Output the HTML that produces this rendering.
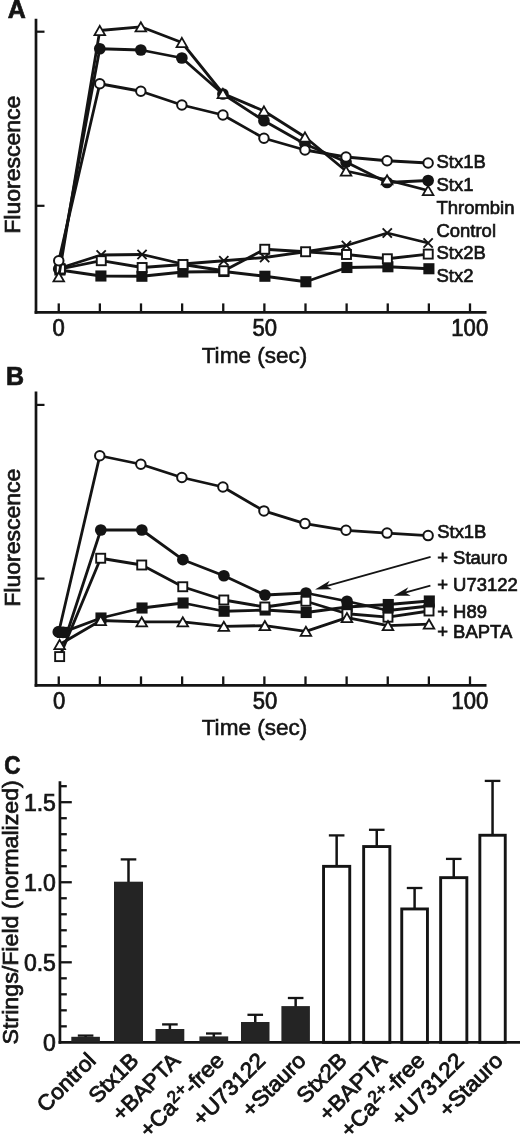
<!DOCTYPE html>
<html><head><meta charset="utf-8"><title>Figure</title>
<style>
html,body{margin:0;padding:0;background:#fff;}
svg{display:block;}
text{font-family:"Liberation Sans",Arial,Helvetica,sans-serif;fill:#141414;}
</style></head><body>
<svg width="520" height="1134" viewBox="0 0 520 1134">
<rect width="520" height="1134" fill="#fff"/>
<line x1="36.0" y1="18.7" x2="36.0" y2="313.65000000000003" stroke="#141414" stroke-width="2.7"/>
<line x1="34.65" y1="312.3" x2="486.5" y2="312.3" stroke="#141414" stroke-width="2.7"/>
<line x1="36.0" y1="31.7" x2="44.5" y2="31.7" stroke="#141414" stroke-width="2.2"/>
<line x1="36.0" y1="205.8" x2="44.5" y2="205.8" stroke="#141414" stroke-width="2.2"/>
<line x1="58.75" y1="312.3" x2="58.75" y2="303.40000000000003" stroke="#141414" stroke-width="2.3"/>
<line x1="99.875" y1="312.3" x2="99.875" y2="303.40000000000003" stroke="#141414" stroke-width="2.3"/>
<line x1="141.0" y1="312.3" x2="141.0" y2="303.40000000000003" stroke="#141414" stroke-width="2.3"/>
<line x1="182.125" y1="312.3" x2="182.125" y2="303.40000000000003" stroke="#141414" stroke-width="2.3"/>
<line x1="223.25" y1="312.3" x2="223.25" y2="303.40000000000003" stroke="#141414" stroke-width="2.3"/>
<line x1="264.375" y1="312.3" x2="264.375" y2="303.40000000000003" stroke="#141414" stroke-width="2.3"/>
<line x1="305.5" y1="312.3" x2="305.5" y2="303.40000000000003" stroke="#141414" stroke-width="2.3"/>
<line x1="346.625" y1="312.3" x2="346.625" y2="303.40000000000003" stroke="#141414" stroke-width="2.3"/>
<line x1="387.75" y1="312.3" x2="387.75" y2="303.40000000000003" stroke="#141414" stroke-width="2.3"/>
<line x1="428.875" y1="312.3" x2="428.875" y2="303.40000000000003" stroke="#141414" stroke-width="2.3"/>
<line x1="470.0" y1="312.3" x2="470.0" y2="303.40000000000003" stroke="#141414" stroke-width="2.3"/>
<polyline points="59.90,270.00 100.90,276.00 141.90,276.25 182.90,272.00 223.90,271.50 264.90,276.25 305.90,281.75 346.90,267.50 387.90,266.75 428.90,268.75" fill="none" stroke="#141414" stroke-width="2.8" stroke-linejoin="round"/>
<rect x="54.35" y="264.45" width="11.1" height="11.1" fill="#141414"/>
<rect x="95.35" y="270.45" width="11.1" height="11.1" fill="#141414"/>
<rect x="136.35" y="270.70" width="11.1" height="11.1" fill="#141414"/>
<rect x="177.35" y="266.45" width="11.1" height="11.1" fill="#141414"/>
<rect x="218.35" y="265.95" width="11.1" height="11.1" fill="#141414"/>
<rect x="259.35" y="270.70" width="11.1" height="11.1" fill="#141414"/>
<rect x="300.35" y="276.20" width="11.1" height="11.1" fill="#141414"/>
<rect x="341.35" y="261.95" width="11.1" height="11.1" fill="#141414"/>
<rect x="382.35" y="261.20" width="11.1" height="11.1" fill="#141414"/>
<rect x="423.35" y="263.20" width="11.1" height="11.1" fill="#141414"/>
<polyline points="58.75,269.00 99.79,48.75 140.83,50.00 181.87,58.00 222.91,94.00 263.95,120.75 304.99,144.00 346.03,162.00 387.07,182.50 428.11,180.50" fill="none" stroke="#141414" stroke-width="2.8" stroke-linejoin="round"/>
<circle cx="58.75" cy="269.00" r="5.85" fill="#141414"/>
<circle cx="99.79" cy="48.75" r="5.85" fill="#141414"/>
<circle cx="140.83" cy="50.00" r="5.85" fill="#141414"/>
<circle cx="181.87" cy="58.00" r="5.85" fill="#141414"/>
<circle cx="222.91" cy="94.00" r="5.85" fill="#141414"/>
<circle cx="263.95" cy="120.75" r="5.85" fill="#141414"/>
<circle cx="304.99" cy="144.00" r="5.85" fill="#141414"/>
<circle cx="346.03" cy="162.00" r="5.85" fill="#141414"/>
<circle cx="387.07" cy="182.50" r="5.85" fill="#141414"/>
<circle cx="428.11" cy="180.50" r="5.85" fill="#141414"/>
<polyline points="60.30,268.00 101.17,255.00 142.04,254.50 182.91,264.00 223.78,260.75 264.65,257.50 305.52,251.75 346.39,245.50 387.26,233.00 428.13,243.00" fill="none" stroke="#141414" stroke-width="2.8" stroke-linejoin="round"/>
<path d="M55.70,263.40L64.90,272.60M55.70,272.60L64.90,263.40" stroke="#141414" stroke-width="1.9" fill="none"/>
<path d="M96.57,250.40L105.77,259.60M96.57,259.60L105.77,250.40" stroke="#141414" stroke-width="1.9" fill="none"/>
<path d="M137.44,249.90L146.64,259.10M137.44,259.10L146.64,249.90" stroke="#141414" stroke-width="1.9" fill="none"/>
<path d="M178.31,259.40L187.51,268.60M178.31,268.60L187.51,259.40" stroke="#141414" stroke-width="1.9" fill="none"/>
<path d="M219.18,256.15L228.38,265.35M219.18,265.35L228.38,256.15" stroke="#141414" stroke-width="1.9" fill="none"/>
<path d="M260.05,252.90L269.25,262.10M260.05,262.10L269.25,252.90" stroke="#141414" stroke-width="1.9" fill="none"/>
<path d="M300.92,247.15L310.12,256.35M300.92,256.35L310.12,247.15" stroke="#141414" stroke-width="1.9" fill="none"/>
<path d="M341.79,240.90L350.99,250.10M341.79,250.10L350.99,240.90" stroke="#141414" stroke-width="1.9" fill="none"/>
<path d="M382.66,228.40L391.86,237.60M382.66,237.60L391.86,228.40" stroke="#141414" stroke-width="1.9" fill="none"/>
<path d="M423.53,238.40L432.73,247.60M423.53,247.60L432.73,238.40" stroke="#141414" stroke-width="1.9" fill="none"/>
<polyline points="60.40,269.00 101.27,260.70 142.14,267.50 183.01,264.50 223.88,270.75 264.75,249.25 305.62,251.75 346.49,254.50 387.36,258.75 428.23,254.10" fill="none" stroke="#141414" stroke-width="2.8" stroke-linejoin="round"/>
<rect x="55.90" y="264.50" width="9.0" height="9.0" fill="#fff" stroke="#141414" stroke-width="1.9"/>
<rect x="96.77" y="256.20" width="9.0" height="9.0" fill="#fff" stroke="#141414" stroke-width="1.9"/>
<rect x="137.64" y="263.00" width="9.0" height="9.0" fill="#fff" stroke="#141414" stroke-width="1.9"/>
<rect x="178.51" y="260.00" width="9.0" height="9.0" fill="#fff" stroke="#141414" stroke-width="1.9"/>
<rect x="219.38" y="266.25" width="9.0" height="9.0" fill="#fff" stroke="#141414" stroke-width="1.9"/>
<rect x="260.25" y="244.75" width="9.0" height="9.0" fill="#fff" stroke="#141414" stroke-width="1.9"/>
<rect x="301.12" y="247.25" width="9.0" height="9.0" fill="#fff" stroke="#141414" stroke-width="1.9"/>
<rect x="341.99" y="250.00" width="9.0" height="9.0" fill="#fff" stroke="#141414" stroke-width="1.9"/>
<rect x="382.86" y="254.25" width="9.0" height="9.0" fill="#fff" stroke="#141414" stroke-width="1.9"/>
<rect x="423.73" y="249.60" width="9.0" height="9.0" fill="#fff" stroke="#141414" stroke-width="1.9"/>
<polyline points="58.75,276.80 99.79,30.50 140.83,26.80 181.87,42.50 222.91,93.50 263.95,111.00 304.99,137.00 346.03,171.00 387.07,179.80 428.11,190.50" fill="none" stroke="#141414" stroke-width="2.8" stroke-linejoin="round"/>
<polygon points="58.75,272.20 64.05,281.40 53.45,281.40" fill="#fff" stroke="#141414" stroke-width="1.8" stroke-linejoin="miter"/>
<polygon points="99.79,25.90 105.09,35.10 94.49,35.10" fill="#fff" stroke="#141414" stroke-width="1.8" stroke-linejoin="miter"/>
<polygon points="140.83,22.20 146.13,31.40 135.53,31.40" fill="#fff" stroke="#141414" stroke-width="1.8" stroke-linejoin="miter"/>
<polygon points="181.87,37.90 187.17,47.10 176.57,47.10" fill="#fff" stroke="#141414" stroke-width="1.8" stroke-linejoin="miter"/>
<polygon points="222.91,88.90 228.21,98.10 217.61,98.10" fill="#fff" stroke="#141414" stroke-width="1.8" stroke-linejoin="miter"/>
<polygon points="263.95,106.40 269.25,115.60 258.65,115.60" fill="#fff" stroke="#141414" stroke-width="1.8" stroke-linejoin="miter"/>
<polygon points="304.99,132.40 310.29,141.60 299.69,141.60" fill="#fff" stroke="#141414" stroke-width="1.8" stroke-linejoin="miter"/>
<polygon points="346.03,166.40 351.33,175.60 340.73,175.60" fill="#fff" stroke="#141414" stroke-width="1.8" stroke-linejoin="miter"/>
<polygon points="387.07,175.20 392.37,184.40 381.77,184.40" fill="#fff" stroke="#141414" stroke-width="1.8" stroke-linejoin="miter"/>
<polygon points="428.11,185.90 433.41,195.10 422.81,195.10" fill="#fff" stroke="#141414" stroke-width="1.8" stroke-linejoin="miter"/>
<polyline points="58.75,260.75 99.79,83.75 140.83,91.25 181.87,105.00 222.91,115.00 263.95,138.25 304.99,150.00 346.03,157.00 387.07,160.75 428.11,163.00" fill="none" stroke="#141414" stroke-width="2.8" stroke-linejoin="round"/>
<circle cx="58.75" cy="260.75" r="4.75" fill="#fff" stroke="#141414" stroke-width="2.0"/>
<circle cx="99.79" cy="83.75" r="4.75" fill="#fff" stroke="#141414" stroke-width="2.0"/>
<circle cx="140.83" cy="91.25" r="4.75" fill="#fff" stroke="#141414" stroke-width="2.0"/>
<circle cx="181.87" cy="105.00" r="4.75" fill="#fff" stroke="#141414" stroke-width="2.0"/>
<circle cx="222.91" cy="115.00" r="4.75" fill="#fff" stroke="#141414" stroke-width="2.0"/>
<circle cx="263.95" cy="138.25" r="4.75" fill="#fff" stroke="#141414" stroke-width="2.0"/>
<circle cx="304.99" cy="150.00" r="4.75" fill="#fff" stroke="#141414" stroke-width="2.0"/>
<circle cx="346.03" cy="157.00" r="4.75" fill="#fff" stroke="#141414" stroke-width="2.0"/>
<circle cx="387.07" cy="160.75" r="4.75" fill="#fff" stroke="#141414" stroke-width="2.0"/>
<circle cx="428.11" cy="163.00" r="4.75" fill="#fff" stroke="#141414" stroke-width="2.0"/>
<text transform="translate(7.75,18.1)" font-size="25" text-anchor="start" font-weight="bold" stroke="#141414" stroke-width="0.7">A</text>
<text transform="translate(436.5,167.6) scale(0.972,1.0)" font-size="19.0" text-anchor="start" font-weight="normal" stroke="#141414" stroke-width="0.7">Stx1B</text>
<text transform="translate(436.5,190.6) scale(0.972,1.0)" font-size="19.0" text-anchor="start" font-weight="normal" stroke="#141414" stroke-width="0.7">Stx1</text>
<text transform="translate(436.5,213.5) scale(0.972,1.0)" font-size="19.0" text-anchor="start" font-weight="normal" stroke="#141414" stroke-width="0.7">Thrombin</text>
<text transform="translate(436.5,236.5) scale(0.972,1.0)" font-size="19.0" text-anchor="start" font-weight="normal" stroke="#141414" stroke-width="0.7">Control</text>
<text transform="translate(436.5,259.0) scale(0.972,1.0)" font-size="19.0" text-anchor="start" font-weight="normal" stroke="#141414" stroke-width="0.7">Stx2B</text>
<text transform="translate(436.5,282.2) scale(0.972,1.0)" font-size="19.0" text-anchor="start" font-weight="normal" stroke="#141414" stroke-width="0.7">Stx2</text>
<text transform="translate(58.6,335.7) scale(0.955,1.0)" font-size="23.1" text-anchor="middle" font-weight="normal" stroke="#141414" stroke-width="0.75">0</text>
<text transform="translate(264.75,335.7) scale(0.955,1.0)" font-size="23.1" text-anchor="middle" font-weight="normal" stroke="#141414" stroke-width="0.75">50</text>
<text transform="translate(469.75,335.7) scale(0.955,1.0)" font-size="23.1" text-anchor="middle" font-weight="normal" stroke="#141414" stroke-width="0.75">100</text>
<text transform="translate(254.5,362.8) scale(0.985,1.0)" font-size="22.9" text-anchor="middle" font-weight="normal" stroke="#141414" stroke-width="0.6">Time (sec)</text>
<text transform="translate(20.3,164.7) rotate(-90) scale(1.028,1.0)" font-size="22.4" text-anchor="middle" font-weight="normal" stroke="#141414" stroke-width="0.7">Fluorescence</text>
<line x1="36.0" y1="391.5" x2="36.0" y2="686.65" stroke="#141414" stroke-width="2.7"/>
<line x1="34.65" y1="685.3" x2="486.5" y2="685.3" stroke="#141414" stroke-width="2.7"/>
<line x1="36.0" y1="404.9" x2="44.5" y2="404.9" stroke="#141414" stroke-width="2.2"/>
<line x1="36.0" y1="578.6" x2="44.5" y2="578.6" stroke="#141414" stroke-width="2.2"/>
<line x1="58.75" y1="685.3" x2="58.75" y2="676.4" stroke="#141414" stroke-width="2.3"/>
<line x1="99.875" y1="685.3" x2="99.875" y2="676.4" stroke="#141414" stroke-width="2.3"/>
<line x1="141.0" y1="685.3" x2="141.0" y2="676.4" stroke="#141414" stroke-width="2.3"/>
<line x1="182.125" y1="685.3" x2="182.125" y2="676.4" stroke="#141414" stroke-width="2.3"/>
<line x1="223.25" y1="685.3" x2="223.25" y2="676.4" stroke="#141414" stroke-width="2.3"/>
<line x1="264.375" y1="685.3" x2="264.375" y2="676.4" stroke="#141414" stroke-width="2.3"/>
<line x1="305.5" y1="685.3" x2="305.5" y2="676.4" stroke="#141414" stroke-width="2.3"/>
<line x1="346.625" y1="685.3" x2="346.625" y2="676.4" stroke="#141414" stroke-width="2.3"/>
<line x1="387.75" y1="685.3" x2="387.75" y2="676.4" stroke="#141414" stroke-width="2.3"/>
<line x1="428.875" y1="685.3" x2="428.875" y2="676.4" stroke="#141414" stroke-width="2.3"/>
<line x1="470.0" y1="685.3" x2="470.0" y2="676.4" stroke="#141414" stroke-width="2.3"/>
<polyline points="58.75,632.00 99.79,455.75 140.83,464.25 181.87,477.50 222.91,487.00 263.95,510.90 304.99,523.60 346.03,530.30 387.07,533.10 428.11,535.60" fill="none" stroke="#141414" stroke-width="2.8" stroke-linejoin="round"/>
<circle cx="58.75" cy="632.00" r="4.75" fill="#fff" stroke="#141414" stroke-width="2.0"/>
<circle cx="99.79" cy="455.75" r="4.75" fill="#fff" stroke="#141414" stroke-width="2.0"/>
<circle cx="140.83" cy="464.25" r="4.75" fill="#fff" stroke="#141414" stroke-width="2.0"/>
<circle cx="181.87" cy="477.50" r="4.75" fill="#fff" stroke="#141414" stroke-width="2.0"/>
<circle cx="222.91" cy="487.00" r="4.75" fill="#fff" stroke="#141414" stroke-width="2.0"/>
<circle cx="263.95" cy="510.90" r="4.75" fill="#fff" stroke="#141414" stroke-width="2.0"/>
<circle cx="304.99" cy="523.60" r="4.75" fill="#fff" stroke="#141414" stroke-width="2.0"/>
<circle cx="346.03" cy="530.30" r="4.75" fill="#fff" stroke="#141414" stroke-width="2.0"/>
<circle cx="387.07" cy="533.10" r="4.75" fill="#fff" stroke="#141414" stroke-width="2.0"/>
<circle cx="428.11" cy="535.60" r="4.75" fill="#fff" stroke="#141414" stroke-width="2.0"/>
<circle cx="58.30" cy="631.90" r="5.85" fill="#141414"/>
<polyline points="62.60,632.40 100.99,618.00 142.03,608.00 183.07,603.00 224.11,611.25 265.15,610.00 306.19,612.50 347.23,607.00 388.27,604.50 429.31,601.00" fill="none" stroke="#141414" stroke-width="2.8" stroke-linejoin="round"/>
<rect x="57.05" y="626.85" width="11.1" height="11.1" fill="#141414"/>
<rect x="95.44" y="612.45" width="11.1" height="11.1" fill="#141414"/>
<rect x="136.48" y="602.45" width="11.1" height="11.1" fill="#141414"/>
<rect x="177.52" y="597.45" width="11.1" height="11.1" fill="#141414"/>
<rect x="218.56" y="605.70" width="11.1" height="11.1" fill="#141414"/>
<rect x="259.60" y="604.45" width="11.1" height="11.1" fill="#141414"/>
<rect x="300.64" y="606.95" width="11.1" height="11.1" fill="#141414"/>
<rect x="341.68" y="601.45" width="11.1" height="11.1" fill="#141414"/>
<rect x="382.72" y="598.95" width="11.1" height="11.1" fill="#141414"/>
<rect x="423.76" y="595.45" width="11.1" height="11.1" fill="#141414"/>
<polyline points="67.30,632.30 100.79,530.00 141.83,530.00 182.87,559.70 223.91,575.75 264.95,595.00 305.99,593.00 347.03,601.25 388.07,610.50 429.11,606.00" fill="none" stroke="#141414" stroke-width="2.8" stroke-linejoin="round"/>
<circle cx="63.00" cy="632.30" r="5.85" fill="#141414"/>
<circle cx="100.79" cy="530.00" r="5.85" fill="#141414"/>
<circle cx="141.83" cy="530.00" r="5.85" fill="#141414"/>
<circle cx="182.87" cy="559.70" r="5.85" fill="#141414"/>
<circle cx="223.91" cy="575.75" r="5.85" fill="#141414"/>
<circle cx="264.95" cy="595.00" r="5.85" fill="#141414"/>
<circle cx="305.99" cy="593.00" r="5.85" fill="#141414"/>
<circle cx="347.03" cy="601.25" r="5.85" fill="#141414"/>
<circle cx="388.07" cy="610.50" r="5.85" fill="#141414"/>
<circle cx="429.11" cy="606.00" r="5.85" fill="#141414"/>
<polyline points="59.65,656.60 100.69,558.25 141.73,565.00 182.77,586.75 223.81,600.00 264.85,607.00 305.89,601.25 346.93,613.75 387.97,617.20 429.01,611.00" fill="none" stroke="#141414" stroke-width="2.8" stroke-linejoin="round"/>
<rect x="55.15" y="652.10" width="9.0" height="9.0" fill="#fff" stroke="#141414" stroke-width="1.9"/>
<rect x="96.19" y="553.75" width="9.0" height="9.0" fill="#fff" stroke="#141414" stroke-width="1.9"/>
<rect x="137.23" y="560.50" width="9.0" height="9.0" fill="#fff" stroke="#141414" stroke-width="1.9"/>
<rect x="178.27" y="582.25" width="9.0" height="9.0" fill="#fff" stroke="#141414" stroke-width="1.9"/>
<rect x="219.31" y="595.50" width="9.0" height="9.0" fill="#fff" stroke="#141414" stroke-width="1.9"/>
<rect x="260.35" y="602.50" width="9.0" height="9.0" fill="#fff" stroke="#141414" stroke-width="1.9"/>
<rect x="301.39" y="596.75" width="9.0" height="9.0" fill="#fff" stroke="#141414" stroke-width="1.9"/>
<rect x="342.43" y="609.25" width="9.0" height="9.0" fill="#fff" stroke="#141414" stroke-width="1.9"/>
<rect x="383.47" y="612.70" width="9.0" height="9.0" fill="#fff" stroke="#141414" stroke-width="1.9"/>
<rect x="424.51" y="606.50" width="9.0" height="9.0" fill="#fff" stroke="#141414" stroke-width="1.9"/>
<polyline points="59.65,644.50 100.69,620.50 141.73,621.80 182.77,621.80 223.81,626.30 264.85,625.60 305.89,631.30 346.93,617.60 387.97,625.60 429.01,624.10" fill="none" stroke="#141414" stroke-width="2.8" stroke-linejoin="round"/>
<polygon points="59.65,639.90 64.95,649.10 54.35,649.10" fill="#fff" stroke="#141414" stroke-width="1.8" stroke-linejoin="miter"/>
<polygon points="100.69,615.90 105.99,625.10 95.39,625.10" fill="#fff" stroke="#141414" stroke-width="1.8" stroke-linejoin="miter"/>
<polygon points="141.73,617.20 147.03,626.40 136.43,626.40" fill="#fff" stroke="#141414" stroke-width="1.8" stroke-linejoin="miter"/>
<polygon points="182.77,617.20 188.07,626.40 177.47,626.40" fill="#fff" stroke="#141414" stroke-width="1.8" stroke-linejoin="miter"/>
<polygon points="223.81,621.70 229.11,630.90 218.51,630.90" fill="#fff" stroke="#141414" stroke-width="1.8" stroke-linejoin="miter"/>
<polygon points="264.85,621.00 270.15,630.20 259.55,630.20" fill="#fff" stroke="#141414" stroke-width="1.8" stroke-linejoin="miter"/>
<polygon points="305.89,626.70 311.19,635.90 300.59,635.90" fill="#fff" stroke="#141414" stroke-width="1.8" stroke-linejoin="miter"/>
<polygon points="346.93,613.00 352.23,622.20 341.63,622.20" fill="#fff" stroke="#141414" stroke-width="1.8" stroke-linejoin="miter"/>
<polygon points="387.97,621.00 393.27,630.20 382.67,630.20" fill="#fff" stroke="#141414" stroke-width="1.8" stroke-linejoin="miter"/>
<polygon points="429.01,619.50 434.31,628.70 423.71,628.70" fill="#fff" stroke="#141414" stroke-width="1.8" stroke-linejoin="miter"/>
<text transform="translate(6.1,385.2)" font-size="25" text-anchor="start" font-weight="bold" stroke="#141414" stroke-width="0.7">B</text>
<text transform="translate(437.2,537.7) scale(0.972,1.0)" font-size="19.0" text-anchor="start" font-weight="normal" stroke="#141414" stroke-width="0.7">Stx1B</text>
<text transform="translate(437.2,564) scale(0.972,1.0)" font-size="19.0" text-anchor="start" font-weight="normal" stroke="#141414" stroke-width="0.7">+ Stauro</text>
<text transform="translate(437.2,591) scale(0.972,1.0)" font-size="19.0" text-anchor="start" font-weight="normal" stroke="#141414" stroke-width="0.7">+ U73122</text>
<text transform="translate(437.2,617.7) scale(0.972,1.0)" font-size="19.0" text-anchor="start" font-weight="normal" stroke="#141414" stroke-width="0.7">+ H89</text>
<text transform="translate(437.2,637.5) scale(0.972,1.0)" font-size="19.0" text-anchor="start" font-weight="normal" stroke="#141414" stroke-width="0.7">+ BAPTA</text>
<text transform="translate(59.2,708.8) scale(0.955,1.0)" font-size="23.1" text-anchor="middle" font-weight="normal" stroke="#141414" stroke-width="0.75">0</text>
<text transform="translate(264.9,708.8) scale(0.955,1.0)" font-size="23.1" text-anchor="middle" font-weight="normal" stroke="#141414" stroke-width="0.75">50</text>
<text transform="translate(469.9,708.8) scale(0.955,1.0)" font-size="23.1" text-anchor="middle" font-weight="normal" stroke="#141414" stroke-width="0.75">100</text>
<text transform="translate(254.5,735.3) scale(0.985,1.0)" font-size="22.9" text-anchor="middle" font-weight="normal" stroke="#141414" stroke-width="0.6">Time (sec)</text>
<text transform="translate(20.3,537.7) rotate(-90) scale(1.028,1.0)" font-size="22.4" text-anchor="middle" font-weight="normal" stroke="#141414" stroke-width="0.7">Fluorescence</text>
<line x1="430.6" y1="556.9" x2="322.70142452939746" y2="587.2348071176002" stroke="#141414" stroke-width="1.8"/>
<polygon points="315.00,589.40 329.69,580.70 326.55,586.15 332.08,589.17" fill="#141414"/>
<line x1="430.4" y1="585.6" x2="401.30934259838216" y2="593.6631713450137" stroke="#141414" stroke-width="1.8"/>
<polygon points="393.60,595.80 408.33,587.15 405.16,592.59 410.68,595.63" fill="#141414"/>
<line x1="59.95" y1="781.2" x2="59.95" y2="1043.6999999999998" stroke="#141414" stroke-width="2.7"/>
<line x1="58.6" y1="1042.35" x2="520" y2="1042.35" stroke="#141414" stroke-width="2.7"/>
<line x1="59.95" y1="1026.34" x2="66.8" y2="1026.34" stroke="#141414" stroke-width="2.3"/>
<line x1="59.95" y1="1010.3299999999999" x2="66.8" y2="1010.3299999999999" stroke="#141414" stroke-width="2.3"/>
<line x1="59.95" y1="994.3199999999999" x2="66.8" y2="994.3199999999999" stroke="#141414" stroke-width="2.3"/>
<line x1="59.95" y1="978.31" x2="66.8" y2="978.31" stroke="#141414" stroke-width="2.3"/>
<line x1="59.95" y1="962.3" x2="71.8" y2="962.3" stroke="#141414" stroke-width="2.3"/>
<line x1="59.95" y1="946.29" x2="66.8" y2="946.29" stroke="#141414" stroke-width="2.3"/>
<line x1="59.95" y1="930.2799999999999" x2="66.8" y2="930.2799999999999" stroke="#141414" stroke-width="2.3"/>
<line x1="59.95" y1="914.27" x2="66.8" y2="914.27" stroke="#141414" stroke-width="2.3"/>
<line x1="59.95" y1="898.26" x2="66.8" y2="898.26" stroke="#141414" stroke-width="2.3"/>
<line x1="59.95" y1="882.2499999999999" x2="71.8" y2="882.2499999999999" stroke="#141414" stroke-width="2.3"/>
<line x1="59.95" y1="866.2399999999999" x2="66.8" y2="866.2399999999999" stroke="#141414" stroke-width="2.3"/>
<line x1="59.95" y1="850.2299999999999" x2="66.8" y2="850.2299999999999" stroke="#141414" stroke-width="2.3"/>
<line x1="59.95" y1="834.2199999999999" x2="66.8" y2="834.2199999999999" stroke="#141414" stroke-width="2.3"/>
<line x1="59.95" y1="818.2099999999999" x2="66.8" y2="818.2099999999999" stroke="#141414" stroke-width="2.3"/>
<line x1="59.95" y1="802.1999999999999" x2="71.8" y2="802.1999999999999" stroke="#141414" stroke-width="2.3"/>
<line x1="59.95" y1="786.1899999999999" x2="66.8" y2="786.1899999999999" stroke="#141414" stroke-width="2.3"/>
<text transform="translate(55.9,1051.05) scale(0.98,1.0)" font-size="23.5" text-anchor="end" font-weight="normal" stroke="#141414" stroke-width="0.75">0</text>
<text transform="translate(55.9,971.0) scale(0.98,1.0)" font-size="23.5" text-anchor="end" font-weight="normal" stroke="#141414" stroke-width="0.75">0.5</text>
<text transform="translate(55.9,890.9499999999999) scale(0.98,1.0)" font-size="23.5" text-anchor="end" font-weight="normal" stroke="#141414" stroke-width="0.75">1.0</text>
<text transform="translate(55.9,810.9) scale(0.98,1.0)" font-size="23.5" text-anchor="end" font-weight="normal" stroke="#141414" stroke-width="0.75">1.5</text>
<text transform="translate(17.6,912.3) rotate(-90) scale(1.036,1.0)" font-size="22.4" text-anchor="middle" font-weight="normal" stroke="#141414" stroke-width="0.7">Strings/Field (normalized)</text>
<text transform="translate(4.3,773.6) scale(0.9,1.0)" font-size="25" text-anchor="start" font-weight="bold" stroke="#141414" stroke-width="0.7">C</text>
<line x1="85.6" y1="1035.6" x2="85.6" y2="1037.8" stroke="#141414" stroke-width="2.5"/>
<line x1="77.8" y1="1035.6" x2="93.39999999999999" y2="1035.6" stroke="#141414" stroke-width="2.3"/>
<rect x="71.3" y="1036.8" width="28.60000000000001" height="5.5499999999999545" fill="#242424"/>
<text transform="translate(97.1,1061.85) rotate(-45) scale(1.035,1.0)" font-size="21.8" text-anchor="end" font-weight="normal" stroke="#141414" stroke-width="0.85">Control</text>
<line x1="128.5" y1="859.4" x2="128.5" y2="882.7" stroke="#141414" stroke-width="2.5"/>
<line x1="120.7" y1="859.4" x2="136.3" y2="859.4" stroke="#141414" stroke-width="2.3"/>
<rect x="114" y="881.7" width="29" height="160.64999999999986" fill="#242424"/>
<text transform="translate(140.0,1061.85) rotate(-45) scale(1.035,1.0)" font-size="21.8" text-anchor="end" font-weight="normal" stroke="#141414" stroke-width="0.85">Stx1B</text>
<line x1="169.9" y1="1024.4" x2="169.9" y2="1030" stroke="#141414" stroke-width="2.5"/>
<line x1="162.1" y1="1024.4" x2="177.70000000000002" y2="1024.4" stroke="#141414" stroke-width="2.3"/>
<rect x="155.5" y="1029" width="28.80000000000001" height="13.349999999999909" fill="#242424"/>
<text transform="translate(181.4,1061.85) rotate(-45) scale(1.035,1.0)" font-size="21.8" text-anchor="end" font-weight="normal" stroke="#141414" stroke-width="0.85">+BAPTA</text>
<line x1="213.8" y1="1033.5" x2="213.8" y2="1037.4" stroke="#141414" stroke-width="2.5"/>
<line x1="206.0" y1="1033.5" x2="221.60000000000002" y2="1033.5" stroke="#141414" stroke-width="2.3"/>
<rect x="199.4" y="1036.4" width="28.799999999999983" height="5.949999999999818" fill="#242424"/>
<text transform="translate(225.3,1061.85) rotate(-45) scale(1.035,1.0)" font-size="21.8" text-anchor="end" font-weight="normal" stroke="#141414" stroke-width="0.85">+Ca<tspan font-size='17' dy='-6.5'>2+</tspan><tspan dy='6.5'>-free</tspan></text>
<line x1="255.25" y1="1014.8" x2="255.25" y2="1023" stroke="#141414" stroke-width="2.5"/>
<line x1="247.45" y1="1014.8" x2="263.05" y2="1014.8" stroke="#141414" stroke-width="2.3"/>
<rect x="241" y="1022" width="28.5" height="20.34999999999991" fill="#242424"/>
<text transform="translate(266.75,1061.85) rotate(-45) scale(1.035,1.0)" font-size="21.8" text-anchor="end" font-weight="normal" stroke="#141414" stroke-width="0.85">+U73122</text>
<line x1="295.65" y1="998" x2="295.65" y2="1007.1" stroke="#141414" stroke-width="2.5"/>
<line x1="287.84999999999997" y1="998" x2="303.45" y2="998" stroke="#141414" stroke-width="2.3"/>
<rect x="281.4" y="1006.1" width="28.5" height="36.249999999999886" fill="#242424"/>
<text transform="translate(307.15,1061.85) rotate(-45) scale(1.035,1.0)" font-size="21.8" text-anchor="end" font-weight="normal" stroke="#141414" stroke-width="0.85">+Stauro</text>
<line x1="336.65" y1="835.4" x2="336.65" y2="865.9" stroke="#141414" stroke-width="2.5"/>
<line x1="328.84999999999997" y1="835.4" x2="344.45" y2="835.4" stroke="#141414" stroke-width="2.3"/>
<rect x="323.55" y="866.35" width="26.199999999999967" height="175.99999999999994" fill="#fff" stroke="#141414" stroke-width="2.9"/>
<text transform="translate(348.15,1061.85) rotate(-45) scale(1.035,1.0)" font-size="21.8" text-anchor="end" font-weight="normal" stroke="#141414" stroke-width="0.85">Stx2B</text>
<line x1="376.75" y1="829.8" x2="376.75" y2="846.1" stroke="#141414" stroke-width="2.5"/>
<line x1="368.95" y1="829.8" x2="384.55" y2="829.8" stroke="#141414" stroke-width="2.3"/>
<rect x="363.65" y="846.5500000000001" width="26.200000000000024" height="195.7999999999999" fill="#fff" stroke="#141414" stroke-width="2.9"/>
<text transform="translate(388.25,1061.85) rotate(-45) scale(1.035,1.0)" font-size="21.8" text-anchor="end" font-weight="normal" stroke="#141414" stroke-width="0.85">+BAPTA</text>
<line x1="414.6" y1="888" x2="414.6" y2="908.5" stroke="#141414" stroke-width="2.5"/>
<line x1="406.8" y1="888" x2="422.40000000000003" y2="888" stroke="#141414" stroke-width="2.3"/>
<rect x="401.75" y="908.95" width="25.699999999999967" height="133.39999999999992" fill="#fff" stroke="#141414" stroke-width="2.9"/>
<text transform="translate(426.1,1061.85) rotate(-45) scale(1.035,1.0)" font-size="21.8" text-anchor="end" font-weight="normal" stroke="#141414" stroke-width="0.85">+Ca<tspan font-size='17' dy='-6.5'>2+</tspan><tspan dy='6.5'>-free</tspan></text>
<line x1="453.75" y1="858.9" x2="453.75" y2="877.2" stroke="#141414" stroke-width="2.5"/>
<line x1="445.95" y1="858.9" x2="461.55" y2="858.9" stroke="#141414" stroke-width="2.3"/>
<rect x="440.65" y="877.6500000000001" width="26.200000000000024" height="164.69999999999987" fill="#fff" stroke="#141414" stroke-width="2.9"/>
<text transform="translate(465.25,1061.85) rotate(-45) scale(1.035,1.0)" font-size="21.8" text-anchor="end" font-weight="normal" stroke="#141414" stroke-width="0.85">+U73122</text>
<line x1="492.54999999999995" y1="780.9" x2="492.54999999999995" y2="834.8" stroke="#141414" stroke-width="2.5"/>
<line x1="484.74999999999994" y1="780.9" x2="500.34999999999997" y2="780.9" stroke="#141414" stroke-width="2.3"/>
<rect x="479.84999999999997" y="835.25" width="25.400000000000013" height="207.09999999999997" fill="#fff" stroke="#141414" stroke-width="2.9"/>
<text transform="translate(504.04999999999995,1061.85) rotate(-45) scale(1.035,1.0)" font-size="21.8" text-anchor="end" font-weight="normal" stroke="#141414" stroke-width="0.85">+Stauro</text>
</svg>
</body></html>
